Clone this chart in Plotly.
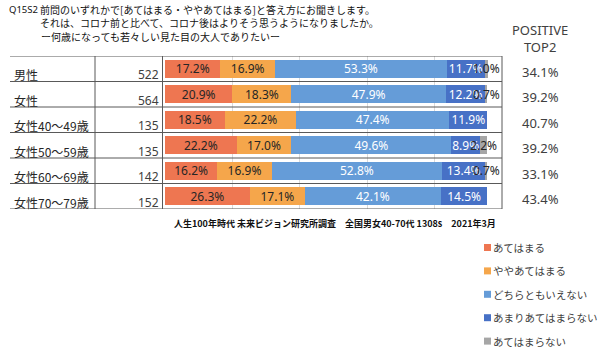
import plotly.graph_objects as go

# ---------------- data ----------------
categories = ["男性", "女性", "女性40〜49歳", "女性50〜59歳", "女性60〜69歳", "女性70〜79歳"]
sample_n = [522, 564, 135, 135, 142, 152]
series_names = ["あてはまる", "ややあてはまる", "どちらともいえない", "あまりあてはまらない", "あてはまらない"]
v_atehamaru = [17.2, 20.9, 18.5, 22.2, 16.2, 26.3]
v_yaya = [16.9, 18.3, 22.2, 17.0, 16.9, 17.1]
v_dochira = [53.3, 47.9, 47.4, 49.6, 52.8, 42.1]
v_amari = [11.7, 12.2, 11.9, 8.9, 13.4, 14.5]
v_not = [1.0, 0.7, 0.0, 2.2, 0.7, 0.0]
positive_top2 = [34.1, 39.2, 40.7, 39.2, 33.1, 43.4]

title_code = "Q15S2"
title_lines = [
    "前問のいずれかで[あてはまる・ややあてはまる]と答え方にお聞きします。",
    "それは、コロナ前と比べて、コロナ後はよりそう思うようになりましたか。",
    "ー何歳になっても若々しい見た目の大人でありたいー",
]
source_text = "人生100年時代 未来ビジョン研究所調査　全国男女40-70代 1308s　2021年3月"
top2_header = "POSITIVE<br>TOP2"

# ---------------- style ----------------
W, H = 600, 358
colors = ["#EE7651", "#F5A64B", "#659CD8", "#4771C6", "#A6A6A6"]
text_colors = ["#262626", "#262626", "#FFFFFF", "#FFFFFF", "#262626"]
JP = "Noto Sans CJK JP"
LAT = "Noto Sans"
LINE = "#595959"


def px(x):
    return x / W


def py(y):
    return 1 - y / H


x_left, x_right = 165, 502
y_top, y_bot = 56, 209
x_max = 104.5

fig = go.Figure()
all_vals = [v_atehamaru, v_yaya, v_dochira, v_amari, v_not]
for name, vals, col, tcol in zip(series_names, all_vals, colors, text_colors):
    fig.add_trace(go.Bar(
        y=categories, x=vals, name=name, orientation="h",
        marker=dict(color=col, line=dict(width=0)),
        text=[f"{v:.1f}%" if v > 0 else "" for v in vals],
        textposition="inside", insidetextanchor="middle", textangle=0,
        textfont=dict(family=LAT, size=12, color=tcol),
        showlegend=False, hoverinfo="skip",
    ))

shapes = []
annotations = []

# table horizontal lines
for k in range(len(categories) + 1):
    shapes.append(dict(type="line", xref="paper", yref="y",
                       x0=px(10), x1=px(x_right), y0=k - 0.5, y1=k - 0.5,
                       line=dict(color=LINE, width=1)))
# table vertical lines
for xv in [95, 162.5, x_right]:
    shapes.append(dict(type="line", xref="paper", yref="y",
                       x0=px(xv), x1=px(xv), y0=-0.5, y1=len(categories) - 0.5,
                       line=dict(color=LINE, width=1)))

# row labels, counts, top2
for cat, n, t2 in zip(categories, sample_n, positive_top2):
    annotations.append(dict(text=cat, xref="paper", yref="y", x=px(12), y=cat,
                            xanchor="left", yanchor="middle", yshift=-6, showarrow=False,
                            font=dict(family=JP, size=12, color="#262626")))
    annotations.append(dict(text=str(n), xref="paper", yref="y", x=px(161), y=cat,
                            xanchor="right", yanchor="middle", yshift=-6, showarrow=False,
                            font=dict(family=LAT, size=12, color="#404040")))
    annotations.append(dict(text=f"{t2:.1f}%", xref="paper", yref="y", x=px(540), y=cat,
                            xanchor="center", yanchor="middle", yshift=-3, showarrow=False,
                            font=dict(family=LAT, size=13, color="#404040")))

annotations.append(dict(text=top2_header, xref="paper", yref="paper", x=px(540), y=py(39),
                        xanchor="center", yanchor="middle", showarrow=False,
                        font=dict(family=LAT, size=13, color="#404040")))

# title
annotations.append(dict(text=title_code, xref="paper", yref="paper", x=px(7), y=py(9),
                        xanchor="left", yanchor="middle", showarrow=False,
                        font=dict(family=LAT, size=9.5, color="#111")))
for i, line in enumerate(title_lines):
    annotations.append(dict(text=line, xref="paper", yref="paper", x=px(38 + (1 if i == 2 else 0)),
                            y=py(9 + 13.5 * i), xanchor="left", yanchor="middle", showarrow=False,
                            font=dict(family=JP, size=10, color="#111")))

# source
annotations.append(dict(text=f"<b>{source_text}</b>", xref="paper", yref="paper", x=px(335), y=py(223),
                        xanchor="center", yanchor="middle", showarrow=False,
                        font=dict(family=JP, size=9, color="#111")))

# legend (manual)
for i, (name, col) in enumerate(zip(series_names, colors)):
    yc = 247.5 + 23.4 * i
    shapes.append(dict(type="rect", xref="paper", yref="paper",
                       x0=px(484), x1=px(491), y0=py(yc - 3.5), y1=py(yc + 3.5),
                       fillcolor=col, line=dict(width=0)))
    annotations.append(dict(text=name, xref="paper", yref="paper", x=px(491), y=py(yc),
                            xanchor="left", yanchor="middle", showarrow=False,
                            font=dict(family=JP, size=10.5, color="#404040")))

fig.update_layout(
    width=W, height=H, margin=dict(l=0, r=0, t=0, b=0),
    paper_bgcolor="white", plot_bgcolor="white",
    barmode="stack", bargap=0.3,
    uniformtext=dict(minsize=12, mode="show"),
    xaxis=dict(domain=[px(x_left), px(x_right)], range=[0, x_max],
               tickvals=[x_max * k / 5 for k in range(1, 5)],
               showticklabels=False, showgrid=True, gridcolor="#D9D9D9", gridwidth=1,
               zeroline=False, showline=False, fixedrange=True),
    yaxis=dict(domain=[py(y_bot), py(y_top)], range=[len(categories) - 0.5, -0.5],
               showticklabels=False, showgrid=False, zeroline=False, showline=False,
               fixedrange=True),
    shapes=shapes, annotations=annotations, showlegend=False,
)

fig.write_html("out.html", config={"displayModeBar": False},
               post_script="document.body.style.margin='0';document.body.style.padding='0';")
